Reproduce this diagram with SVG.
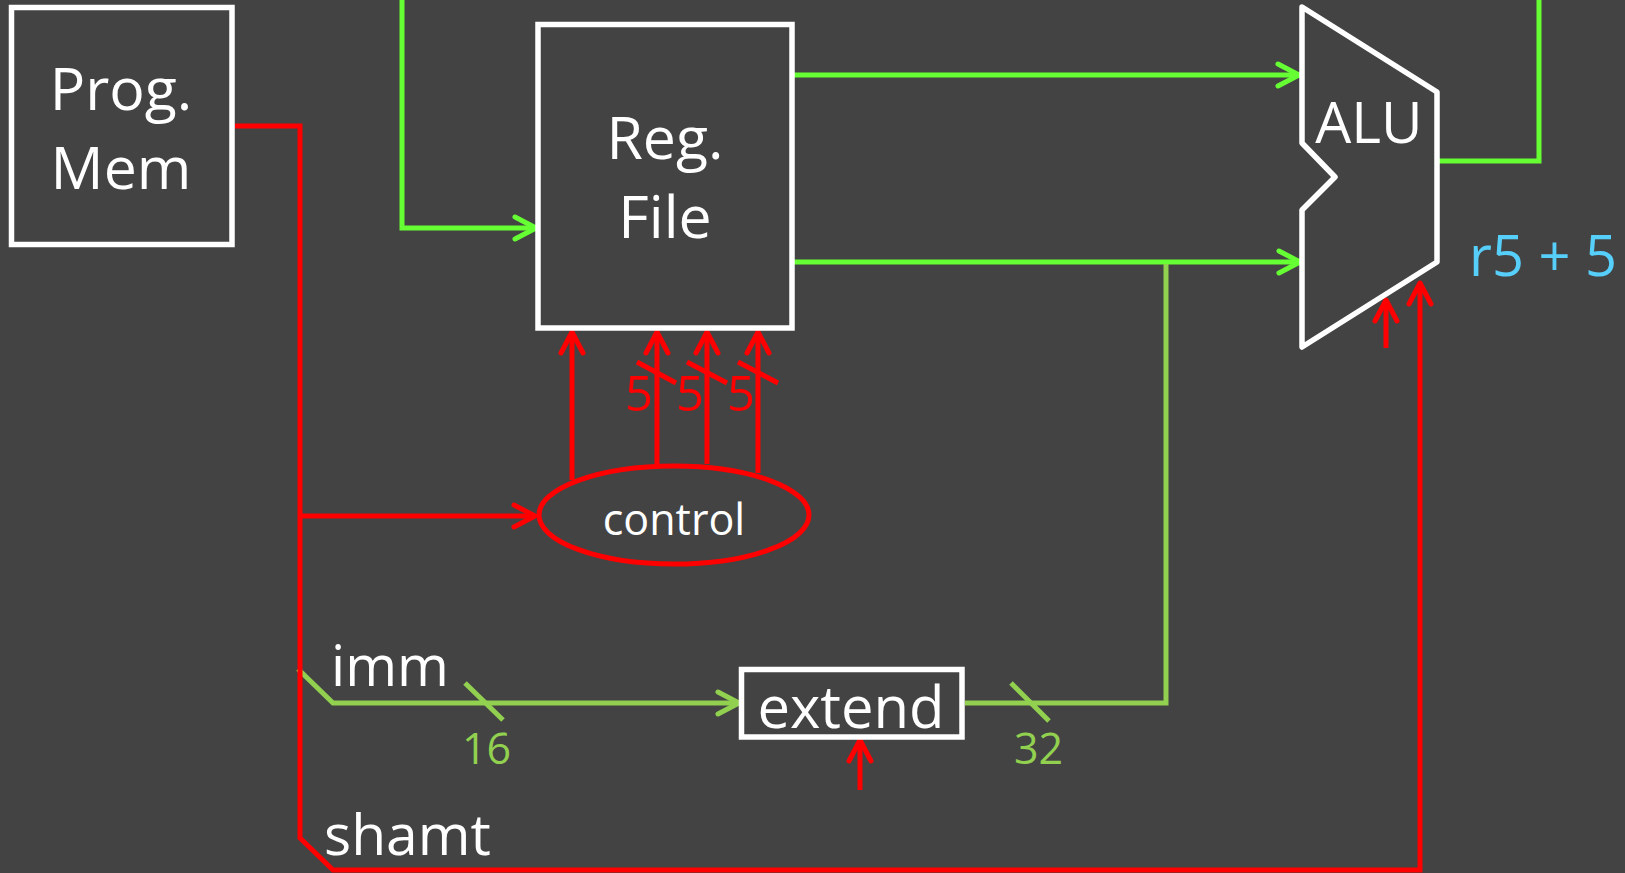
<svg xmlns="http://www.w3.org/2000/svg" width="1625" height="873" viewBox="0 0 1625 873">
<style>
.bg{fill:#434343}
.box{fill:#434343;stroke:#FFFFFF;stroke-width:5.5}
.t{font-family:"Open Sans","Liberation Sans",sans-serif;fill:#FFFFFF}
.red{fill:none;stroke:#FF0000;stroke-width:5;stroke-linejoin:miter}
.grn{fill:none;stroke:#66FF33;stroke-width:5}
.olv{fill:none;stroke:#92D050;stroke-width:5}
.redt{font-family:"Open Sans","Liberation Sans",sans-serif;fill:#FF0000}
.olvt{font-family:"Open Sans","Liberation Sans",sans-serif;fill:#92D050}
</style>
<defs>
<marker id="ar" markerUnits="userSpaceOnUse" markerWidth="40" markerHeight="40" refX="0" refY="0" orient="auto" overflow="visible">
<path d="M-21,-11 L0,0 L-21,11" fill="none" stroke="#FF0000" stroke-width="5" stroke-linecap="round" stroke-linejoin="round"/>
</marker>
<marker id="ag" markerUnits="userSpaceOnUse" markerWidth="40" markerHeight="40" refX="0" refY="0" orient="auto" overflow="visible">
<path d="M-21,-11 L0,0 L-21,11" fill="none" stroke="#66FF33" stroke-width="5" stroke-linecap="round" stroke-linejoin="round"/>
</marker>
<marker id="ao" markerUnits="userSpaceOnUse" markerWidth="40" markerHeight="40" refX="0" refY="0" orient="auto" overflow="visible">
<path d="M-21,-11 L0,0 L-21,11" fill="none" stroke="#92D050" stroke-width="5" stroke-linecap="round" stroke-linejoin="round"/>
</marker>
</defs>
<rect class="bg" x="0" y="0" width="1625" height="873"/>

<g id="connectors">
<path class="grn" d="M402,0 L402,228 L536,228" marker-end="url(#ag)"/>
<path class="grn" d="M792,75 L1299,75" marker-end="url(#ag)"/>
<path class="grn" d="M792,262 L1300,262" marker-end="url(#ag)"/>
<path class="grn" d="M1437,161 L1539,161 L1539,0"/>
<path class="olv" d="M298,669 L333,703 L739,703" marker-end="url(#ao)"/>
<path class="olv" d="M465,683 L503,720"/>
<path class="olv" d="M965,703 L1166,703 L1166,264"/>
<path class="olv" d="M1011,683 L1049,721"/>
<path class="red" d="M235,126 L300,126 L300,838 L333,870 L1420,870 L1420,283" marker-end="url(#ar)"/>
<path class="red" d="M300,516 L535,516" marker-end="url(#ar)"/>
<path class="red" d="M572,480 L572,332" marker-end="url(#ar)"/>
<path class="red" d="M657,464 L657,332" marker-end="url(#ar)"/>
<path class="red" d="M707,464 L707,332" marker-end="url(#ar)"/>
<path class="red" d="M758,473 L758,332" marker-end="url(#ar)"/>
<path class="red" d="M637,362 L676,383"/>
<path class="red" d="M687,362 L727,383"/>
<path class="red" d="M738,362 L778,383"/>
<path class="red" d="M860,790 L860,740" marker-end="url(#ar)"/>
<path class="red" d="M1386,348 L1386,300" marker-end="url(#ar)"/>
</g>

<g id="prog-mem">
<rect class="box" x="11.5" y="7.5" width="220.5" height="237"/>
<text class="t" x="121" y="110" font-size="59" text-anchor="middle">Prog.</text>
<text class="t" x="121" y="189" font-size="59" text-anchor="middle">Mem</text>
</g>

<g id="reg-file">
<rect class="box" x="538" y="24.5" width="254" height="303.5"/>
<text class="t" x="665" y="159" font-size="59" text-anchor="middle">Reg.</text>
<text class="t" x="665" y="238" font-size="59" text-anchor="middle">File</text>
</g>

<g id="alu">
<polygon class="box" points="1302,7 1437,92 1437,262 1302,347 1302,210 1335,177 1302,143" stroke-linejoin="round"/>
<text class="t" x="1369" y="143" font-size="57" text-anchor="middle">ALU</text>
</g>

<g id="control">
<ellipse cx="674" cy="515" rx="135" ry="49" fill="#434343" stroke="#FF0000" stroke-width="5"/>
<text class="t" x="674" y="535" font-size="43" text-anchor="middle">control</text>
</g>

<g id="extend">
<rect class="box" x="741.5" y="669.5" width="220.5" height="67.5"/>
<text class="t" x="851" y="728" font-size="58" text-anchor="middle">extend</text>
</g>

<g id="labels">
<text class="redt" x="625" y="411" font-size="49">5</text>
<text class="redt" x="676" y="411" font-size="49">5</text>
<text class="redt" x="727" y="411" font-size="49">5</text>
<text class="t" x="331" y="686" font-size="56">imm</text>
<text class="t" x="324" y="855" font-size="57">shamt</text>
<text class="olvt" x="462" y="764" font-size="43">16</text>
<text class="olvt" x="1014" y="764" font-size="43">32</text>
<text x="1469" y="276" font-size="56" font-family="'Open Sans','Liberation Sans',sans-serif" fill="#57CFFB">r5 + 5</text>
</g>
</svg>
